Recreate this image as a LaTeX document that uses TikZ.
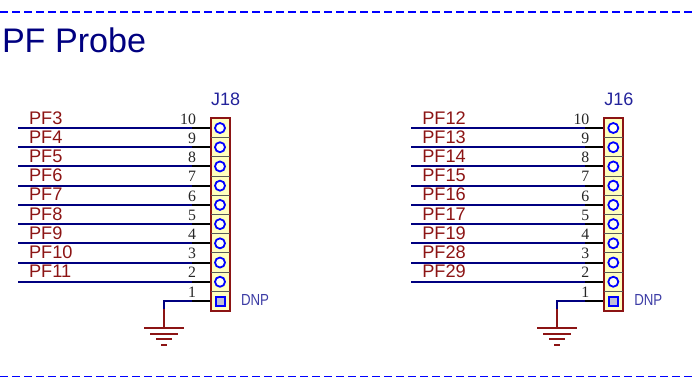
\documentclass[tikz,border=0pt]{standalone}
\usepackage{fontspec}
\setmainfont{Liberation Sans}
\newfontfamily\pinfont{Liberation Serif}
\definecolor{netblue}{RGB}{0,0,128}
\definecolor{wirered}{RGB}{140,20,20}
\definecolor{labelred}{RGB}{140,20,20}
\definecolor{desblue}{RGB}{35,35,155}
\definecolor{dnpblue}{RGB}{60,60,165}
\definecolor{bodyfill}{RGB}{255,255,190}
\definecolor{pinblue}{RGB}{0,0,255}
\definecolor{padgray}{RGB}{190,190,215}
\tikzset{
  txt/.style={inner sep=0pt,outer sep=0pt},
  title/.style={txt,anchor=base west,text=netblue,font=\fontsize{34.1}{36}\selectfont},
  netlabel/.style={txt,anchor=base west,text=labelred,font=\fontsize{18.2}{20}\selectfont},
  designator/.style={txt,anchor=base west,text=desblue,font=\fontsize{18}{20}\selectfont},
  pinnum/.style={txt,anchor=base east,text=black!85,font=\fontsize{15.8}{18}\selectfont\pinfont},
  dnp/.style={txt,anchor=base west,text=dnpblue,xscale=.83,font=\fontsize{16}{18}\selectfont},
  border/.style={pinblue,line width=1.8pt,dash pattern=on 8pt off 4pt},
  body/.style={draw=wirered,fill=bodyfill,line width=2pt},
  sep/.style={draw=black!65,line width=1pt},
  hole/.style={circle,draw=pinblue,line width=1.8pt,minimum size=10pt,inner sep=0pt,fill=bodyfill!15!white},
  pad/.style={rectangle,draw=pinblue,line width=2pt,minimum size=9pt,inner sep=0pt,fill=padgray},
  netwire/.style={netblue,line width=2pt},
  pinwire/.style={black,line width=2pt},
  gndwire/.style={wirered,line width=2pt},
}
\newcommand{\header}[3]{%
  % #1 x offset, #2 name, #3 label list
  \begin{scope}[shift={(#1,0)}]
    \node[designator] (#2des) at (211,105) {#2};
    \path[body] (210.5,118) rectangle (230,311);
    \foreach \n/\lab in {#3}{
      \pgfmathsetmacro{\yy}{128+(10-\n)*19.22}
      \coordinate (#2start\n) at (18,\yy);
      \coordinate (#2bend\n) at (192,\yy);
      \node[hole] (#2pin\n) at (220,\yy) {};
      \coordinate (#2edge\n) at (210,\yy);
      \draw[netwire] (#2start\n) -- (#2bend\n);
      \draw[pinwire] (#2bend\n) -- (#2edge\n);
      \node[netlabel] (#2net\n) at (29,\yy-4) {\lab};
      \node[pinnum] (#2num\n) at (196,\yy-3.8) {\n};
      \draw[sep] (210.5,\yy+9.6) -- (230,\yy+9.6);
    }
    \node[pad] (#2pin1) at (220,301) {};
    \coordinate (#2edge1) at (210,301);
    \coordinate (#2bend1) at (192,301);
    \coordinate (#2corner) at (163.5,301);
    \coordinate (#2mid) at (163.5,309);
    \coordinate (#2gnd) at (163.5,327.5);
    \node[pinnum] (#2num1) at (196,297.2) {1};
    \node[dnp] (#2dnp) at (241,305) {DNP};
    \draw[pinwire] (#2bend1) -- (#2edge1);
    \draw[netwire] (#2bend1) -- (#2corner) -- (#2mid);
    \draw[gndwire] (#2mid) -- (#2gnd);
    \draw[gndwire] (144,327.5) -- (184,327.5);
    \draw[gndwire] (150,333.5) -- (178,333.5);
    \draw[gndwire] (156,339) -- (172,339);
    \draw[gndwire] (161,345) -- (167,345);
  \end{scope}}
\begin{document}
\begin{tikzpicture}[x=1pt,y=-1pt]
  \useasboundingbox (0,0) rectangle (694,381);
  \coordinate (topa) at (0,12);
  \coordinate (topb) at (694,12);
  \coordinate (bota) at (0,376.5);
  \coordinate (botb) at (694,376.5);
  \draw[border] (topa) -- (topb);
  \draw[border] (bota) -- (botb);
  \node[title] (heading) at (2,52) {PF Probe};
  \header{0}{J18}{10/PF3,9/PF4,8/PF5,7/PF6,6/PF7,5/PF8,4/PF9,3/PF10,2/PF11}
  \header{393.3}{J16}{10/PF12,9/PF13,8/PF14,7/PF15,6/PF16,5/PF17,4/PF19,3/PF28,2/PF29}
\end{tikzpicture}
\end{document}
